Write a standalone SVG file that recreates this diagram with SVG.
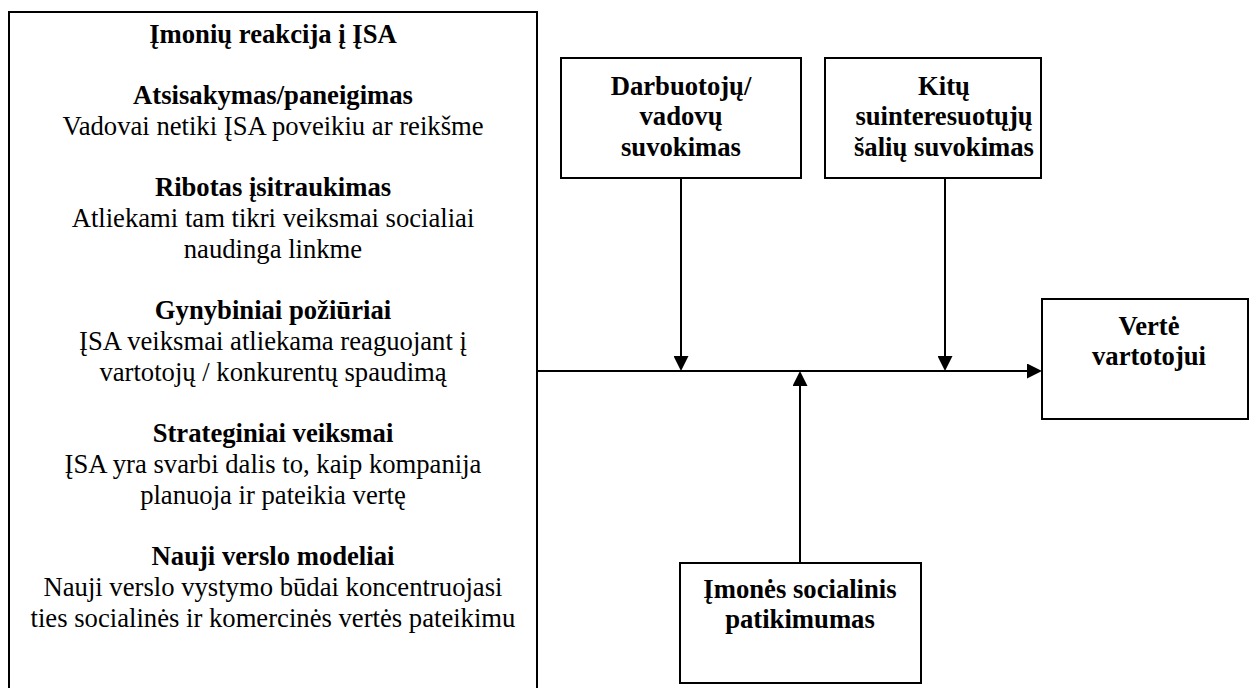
<svg xmlns="http://www.w3.org/2000/svg" width="1249" height="688" viewBox="0 0 1249 688">
  <style>
    .box { fill: #ffffff; stroke: #000000; stroke-width: 2; }
    .wire { fill: none; stroke: #000000; stroke-width: 2; }
    text { font-family: "Liberation Serif", "Times New Roman", serif; font-size: 26.67px; fill: #000000; text-anchor: middle; }
    .b { font-weight: bold; }
  </style>
  <defs>
    <marker id="arrow" markerUnits="userSpaceOnUse" markerWidth="15" markerHeight="15" refX="12" refY="7.5" orient="auto">
      <path d="M0,0 L15,7.5 L0,15 Z" fill="#000000"/>
    </marker>
  </defs>
  <rect width="1249" height="688" fill="#ffffff"/>

  <!-- Company reactions to CSR (open at the bottom edge) -->
  <g id="node-reakcija">
    <rect class="box" x="9" y="12" width="528" height="700"/>
    <text class="b" x="273" y="43">Įmonių reakcija į ĮSA</text>
    <text class="b" x="273" y="104">Atsisakymas/paneigimas</text>
    <text x="273" y="135">Vadovai netiki ĮSA poveikiu ar reikšme</text>
    <text class="b" x="273" y="196">Ribotas įsitraukimas</text>
    <text x="273" y="227">Atliekami tam tikri veiksmai socialiai</text>
    <text x="273" y="258">naudinga linkme</text>
    <text class="b" x="273" y="319">Gynybiniai požiūriai</text>
    <text x="273" y="350">ĮSA veiksmai atliekama reaguojant į</text>
    <text x="273" y="381">vartotojų / konkurentų spaudimą</text>
    <text class="b" x="273" y="442">Strateginiai veiksmai</text>
    <text x="273" y="473">ĮSA yra svarbi dalis to, kaip kompanija</text>
    <text x="273" y="504">planuoja ir pateikia vertę</text>
    <text class="b" x="273" y="565">Nauji verslo modeliai</text>
    <text x="273" y="596">Nauji verslo vystymo būdai koncentruojasi</text>
    <text x="273" y="627">ties socialinės ir komercinės vertės pateikimu</text>
  </g>

  <g id="node-darbuotoju">
    <rect class="box" x="561" y="58" width="240" height="120"/>
    <text class="b" x="681" y="95">Darbuotojų/</text>
    <text class="b" x="681" y="125">vadovų</text>
    <text class="b" x="681" y="156">suvokimas</text>
  </g>

  <g id="node-kitu">
    <rect class="box" x="825" y="58" width="216" height="120"/>
    <text class="b" x="944" y="95">Kitų</text>
    <text class="b" x="944" y="125">suinteresuotųjų</text>
    <text class="b" x="944" y="156">šalių suvokimas</text>
  </g>

  <g id="node-verte">
    <rect class="box" x="1042" y="299" width="206" height="120"/>
    <text class="b" x="1149" y="335">Vertė</text>
    <text class="b" x="1149" y="365">vartotojui</text>
  </g>

  <g id="node-patikimumas">
    <rect class="box" x="680" y="563" width="241" height="120"/>
    <text class="b" x="800" y="598">Įmonės socialinis</text>
    <text class="b" x="800" y="628">patikimumas</text>
  </g>

  <g id="connectors">
    <line class="wire" x1="537" y1="371" x2="1039" y2="371" marker-end="url(#arrow)"/>
    <line class="wire" x1="681" y1="178" x2="681" y2="368" marker-end="url(#arrow)"/>
    <line class="wire" x1="945" y1="178" x2="945" y2="368" marker-end="url(#arrow)"/>
    <line class="wire" x1="800" y1="563" x2="800" y2="374" marker-end="url(#arrow)"/>
  </g>
</svg>
